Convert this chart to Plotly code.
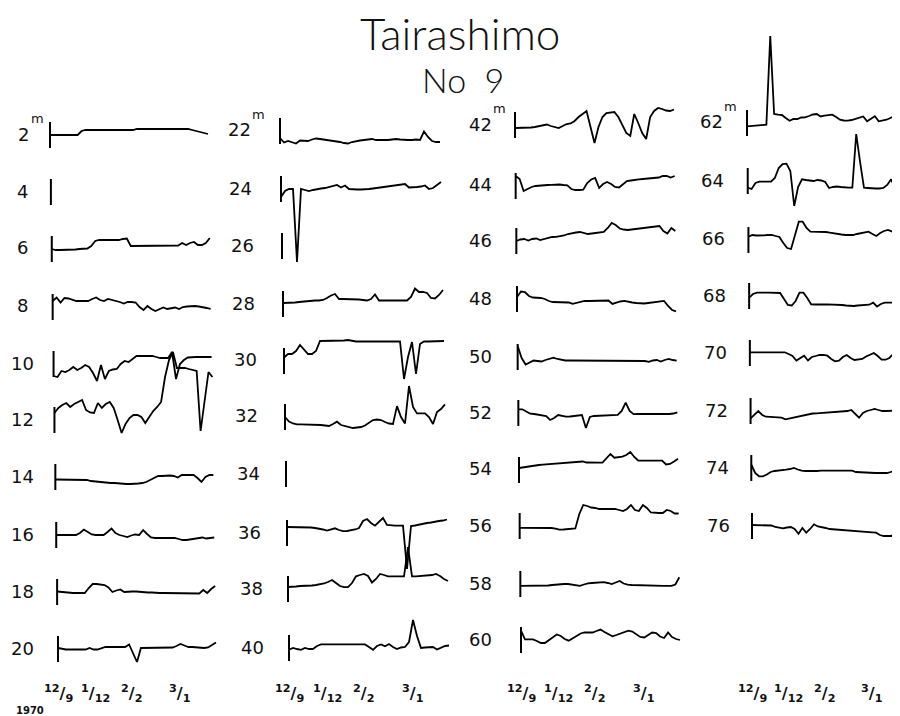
import plotly.graph_objects as go

W, H = 900, 716

# ---------------- data (deviation of each depth record, observation number on x) ----------
obs = list(range(41))
date_pos = [0, 9.5, 18.6, 31]
date_text = ["12/9", "1/12", "2/2", "3/1"]

d02 = [0,0,0,0,0,0,0,0,4,5, 5,5,5,5,5,5,5,5,5,5, 5,5,6,6,6,6,6,6,6,6, 6,6,6,6,6,6,5,4,3,2, 1]
d04 = None
d06 = [0,-1,-1,-1,-1,-1,-0.5,0,0,0.5, 3,8,9,9,9,9,9,9,10,10.5, 3,3,3,3,3,3,3,3,3,3, 3,3,3.5,6,4,6,7,4,4,6, 11]
d08 = [6,9.5,4.5,9,8.5,7,6,6,6,6, 8,9.5,7,6,8,7,6.5,5,3.5,5, 5,4.5,0,-3,1,-2,-4,-2,-0.5,-2, -1,-0.5,-2,0,0.5,1,1,0.5,0,-1, -2]
d10 = [-12,-13,-7,-8,-6,-3,-6,-4,-1,-3, -9,-17,-1,-15,-7,-5.5,-5,0,3,2, 5,8,8,8,8,8,7,6,6,6, 12,-15,0,4,6.5,7,7,7,7,7, 7]
d12 = [7,12,15,17,13,16,18,20,10,7.5, 7,17,12,16,18,12,0,-13,-4,2, 5,5,3,-3,3,9,13,18,43,60, 68,52,52,52,51,50,49,-11,20,48, 43]
d14 = [-2.5,-2.5,-2.5,-2.5,-2.5,-2.5,-2.5,-2.5,-3,-4, -4.5,-5,-5.5,-6,-6,-6,-6.5,-6.5,-7,-7, -7,-6.5,-6,-5,-3,-1,1,1,1.5,1.5, 1,-0.5,2,2,2,2,-1,-5,0,2, 2]
d16 = [0,0,0,0,0,0,2,5.5,3,0.5, 0,0,0,3,6.5,2,0,-1,-2,-0.5, 0.5,0,5,1,-2.5,-3,-3,-3,-3,-3, -3,-4,-5,-5,-4.5,-4,-3,-2.5,-3.5,-3, -2.5]
d18 = [0.5,0,-0.5,-1,-1,-1,-1,-1,4,8, 8,7.5,7,4.5,0,1.5,2.5,0,0.5,0.5, 0.5,0,0,-0.5,-0.5,-1,-1,-1,-1,-1, -1,-1,-1,-1,-1,-1,-1.5,2,-1,3, 6]
d20 = [1,0,-0.5,-0.5,-0.5,-0.5,-0.5,-0.5,1,-0.5, -0.5,1,2,2,2,2,2,2,4.5,-5, -13,1,1,1,1,1,1,1,1,1.5, 3,5,3.5,2,2,1.5,1,1,1.5,4, 6.5]

d22 = [-7,-11.5,-10,-11,-12.5,-9.5,-10,-10,-8.5,-7.5, -8,-8.5,-9,-9.5,-10,-11,-12,-12.5,-11,-10, -9.5,-9,-8.5,-8,-9,-9,-9.5,-9,-8.5,-8, -8.5,-9,-9,-9,-8.5,-9,-0.5,-6,-10,-11, -11]
d24 = [-8,-2,0,0,-73,0,-1,-2,-1,0, 0.5,1,2,3,4,1.5,3.5,0,-0.5,-0.5, -0.5,-0.5,0,0.5,1,1.5,2,2.5,3,3.5, 4,5,1.5,1.5,2,2.5,3.5,0,1,4, 7]
d26 = None
d28 = [1,1,1.5,1.5,2,2.5,3,3,3.5,3.5, 4,6,8.5,10,5,5,5,4.5,5,4.5, 4,3.5,5,9.5,3.5,3.5,3.5,3.5,3.5,3.5, 3.5,3.5,7,15.5,12,12,11,6,5.5,9, 14]
d30 = [3.5,7,7,10,16,12,7,7,10,20, 20,20,20,20,20.5,20.5,21,20,19.5,19.5, 19.5,19.5,19.5,19.5,19.5,19.5,19.5,19.5,19.5,19.5, -18,4,19,-13,17,19.5,19.5,19.5,20,20, 20]
d32 = [0,-4.5,-6.5,-7.3,-7.3,-7.3,-7.3,-7.3,-7.5,-8, -8.5,-9,-7,-4.7,-8,-9,-10.5,-11,-10.5,-10, -8.5,-6,-3,-2.5,-3,-5,-6.5,-7,10.9,0, -6.5,31,10,3.6,3.6,3.6,0,-7,5,8, 12.7]
d34 = None
d36 = [6,6,6,6,6,6,5.5,5,4.5,3.5, 2.5,3.5,4.7,3,1.8,2,2.5,3.5,5,12, 14,10,7.3,11,15,8,7.3,7.3,7.3,7.3, -36,7,7.5,8.5,9.5,10,10.5,11.5,12,12.5, 13.5]
d38 = [2,2,2.5,3,3,3.5,3.5,4,4.5,5.5, 7,9,6,3,1.8,1.8,6,12.7,14,15, 13,6.5,10,15,14,12.7,12.7,12.7,12.7,12.7, 42,12.7,12.7,13,13.2,13.4,14,15,13,10, 8]
d40 = [-1.8,0,-1,-1.8,0,-1,-1,2,3.6,3.6, 3.6,3.6,3.6,3.6,3.6,3.6,3.6,3.6,3.6,3.6, 1,-1.8,2,3.6,1.8,4,1,-1,0.5,1, 6,28,12,0,0.5,1,1,-1.5,0,2, 2.5]

d42 = [-3,-3,-3,-3,-2.5,-2,-1,0,0.5,-1, -2,-3,-1,1,1.5,4,8,11,14,-2, -18,-2,8,12,12.5,13,8,0,-8,-11, 11,2,-8,-14,8,14,17,16,14.5,14, 15.5]
d44 = [10,7,-5,-3,-1,0,0.5,0.7,1,1.2, 1.5,1.5,1,0.7,-3,-4,-4,-3.7,3,6.5, 8,-2,2,4,2,-1,-1.5,2,5,5.5, 6.3,6.6,7,7.3,7.6,8,8.5,10,10,8.5, 10]
d46 = [0,1.5,2,0.5,2,2.5,1,2,3.7,4, 4.2,4.5,5.5,7,8,8.5,9,8,7,7.5, 8,8.5,9,13,18,16,12.5,11.5,11,11.5, 12,12.3,12.5,12.8,13.5,14,15,10,7.5,13, 10]
d48 = [2,7.5,7,3,1.5,1.5,1,0,-2,-3, -3,-3,-3,-3.5,-4.9,-4,-2.5,-2,-2,-2, -2,-1.5,-1.5,-1.5,-4.9,-3.5,-2.5,-1.9,-3,-3.5, -4,-4.5,-4.5,-4,-3.5,-3,-2.5,-1.9,-7,-11, -12.3]
d50 = [11,-1,-7.5,-5.5,-3.5,-4,-4.5,-3,-2,-0.7, -2,-3,-3.5,-3.5,-3.5,-3.5,-3.5,-3.5,-3.5,-3.5, -3.5,-3.5,-3.5,-3.5,-3.5,-3.5,-3.5,-3.5,-3.5,-3.5, -3.5,-3.7,-4,-4.9,-3.5,-3,-4.5,-3,-2,-3, -3.7]
d52 = [3.7,3.7,1.5,-0.7,-1,-1.5,-2.5,-3,-7,-5, -2,-3,-3.7,-3.5,-3,-3,-2,-15,-4,-3, -2.8,-2.6,-2.4,-2.2,-2,-1.9,2,10.4,2,-1.1, -1,-1,-0.8,-0.8,-0.8,-1,-1.2,-1.5,-1,-0.5, 0.7]
d54 = [2,2.7,3.3,4,4.8,5,5.3,5.6,5.9,6.2, 6.4,6.7,7,7.2,7.4,7.5,8.5,7.5,7.3,7.4, 7.4,7.5,12,16,12.3,12.8,13.4,15,18,13, 9.5,9.3,9.3,9.3,9.3,9.3,9.3,5.5,6,8.5, 11.2]
d56 = [-1.9,-1.9,-1.9,-1.9,-1.9,-1.9,-1.9,-1.9,-2,-2.7, -3.7,-3.5,-3,-3,-2.5,12,21,20,18.5,18, 17,17,17,17,17,16,15,17,21,16, 15,21,18,13.5,13,13,13,16,15,12.5, 12.5]
d58 = [-1.9,-1.9,-1.9,-1.9,-1.9,-1.8,-1.7,-1.5,-1,-0.5, 0,0,0,-0.5,-1,-1.9,-0.5,0.7,1,1.2, 1.6,1.9,1,0,1.5,3,0.5,-0.7,-1,-1.2, -1.4,-1.5,-1.7,-1.8,-1.9,-1.9,-1.9,-1.9,-1.9,-0.5, 6.7]
d60 = [9.3,0.7,0.7,0.7,-1,-3,-3,0,3,5.5, 4,1,-0.7,1.5,4,6.5,7.5,7.3,7.5,9, 10.4,8,5.5,3.7,5,6.5,8,9.3,8.5,6, 3,2.5,5,7.5,7,3.5,2,7.5,3,1, 0]

d62 = [-3.3,-3,-2.7,-2.3,-2,-1.7,87,9,8.3,8, 5,2.3,4,4,5.5,5.7,7,8.5,9,6.5, 7.3,7.8,8.3,6,3.3,2.5,2.3,3,4,5, 6.5,1.7,4,6.7,1.7,2.5,3.3,5,7,6, 5]
d64 = [-6.7,-8,-2,-0.7,-0.7,-0.7,-0.7,3,13,17, 17.3,10,-25,-6,1.7,1,0.7,0,1,0.5, -1,-7,-6,-5.5,-6,-6.5,-6.7,-6.7,47,19, -6.7,-7,-7.5,-7.5,-7.5,-7,-4,1.7,-7,-3, 0]
d66 = [3.3,5,4.5,4.3,4.7,5,5,4,3,-3, -8,-9,4,18.3,18.3,12,8.3,8.3,8.3,8.5, 8,7.3,6.5,6,5.5,5,5,5,6,7, 7.5,8.3,6,4,7,9,10,8.5,7,6.7, 6.7]
d68 = [-1.7,2,3.3,3,3.3,3.3,3.3,3.3,3,-3, -9,-9.5,-5,3.3,3.3,-2,-8.3,-8.5,-8.7,-8.5, -8.3,-8.3,-8.3,-8.5,-9,-9.5,-10,-10,-9.5,-9.3, -9,-8.7,-6.7,-10.5,-8,-6.7,-6.7,-6.7,-8,-10, -8.3]
d70 = [0.7,0.7,0.7,0.7,0.7,0.7,0.7,0.7,0.7,0.7, -1,-3,-7.5,-5,-2.7,-7.5,-4,-3,-2,-1.8, -2.7,-6,-8.3,-7.7,-4,-2,-5,-7,-6.5,-6, -3.5,-1.5,0,-3,-6.7,-6.7,-5,-1,-3,-6.7, -3.3]
d72 = [-7.3,-4,0,-4,-5.7,-5.8,-6,-6.3,-6.7,-8.3, -7.5,-6,-5.3,-4.7,-4,-3.5,-2.5,-2.3,-2,-1.7, -1.5,-1.3,-1.3,-1,-0.5,0,1,-3,-6.7,-2, 0,1,2,1,0,0,0,0,0.5,1, 1]
d74 = [3.3,-5,-8.3,-8.3,-6.5,-4,-3,-2.7,-2,-1.7, -1,0,-1.5,-2.7,-3,-3.2,-3.3,-3,-2.7,-2.7, -2.7,-2.7,-2.7,-2.7,-2.7,-2.7,-2.7,-4,-4.3,-4.5, -4.8,-5,-5,-5,-5,-5,-4,-3,-5,-6, -6]
d76 = [1,1,1,1,1,0.5,-1,-2,-2.3,-1.5, -1,-3,-7.7,-2,-6.7,-3,1.7,-0.5,-1,-2, -3,-3.3,-3.3,-3.3,-3.5,-4,-4.3,-4.5,-5,-5.5, -6,-6.3,-6.7,-9,-10,-10,-10,-6,-1.7,-7, -10]

series = {2: d02, 4: d04, 6: d06, 8: d08, 10: d10, 12: d12, 14: d14, 16: d16, 18: d18, 20: d20,
          22: d22, 24: d24, 26: d26, 28: d28, 30: d30, 32: d32, 34: d34, 36: d36, 38: d38, 40: d40,
          42: d42, 44: d44, 46: d46, 48: d48, 50: d50, 52: d52, 54: d54, 56: d56, 58: d58, 60: d60,
          62: d62, 64: d64, 66: d66, 68: d68, 70: d70, 72: d72, 74: d74, 76: d76}

columns = [list(range(2, 21, 2)), list(range(22, 41, 2)), list(range(42, 61, 2)), list(range(62, 77, 2))]

# ---------------- layout geometry (pixels) ----------------
row_y = {2: 127, 4: 184, 6: 241, 8: 299, 10: 356, 12: 412, 14: 469, 16: 527, 18: 584, 20: 641,
         22: 123, 24: 181, 26: 238, 28: 296, 30: 353, 32: 409, 34: 466, 36: 525, 38: 581, 40: 640,
         42: 117, 44: 178, 46: 233, 48: 291, 50: 349, 52: 405, 54: 462, 56: 518, 58: 576, 60: 632,
         62: 115, 64: 173, 66: 232, 68: 288, 70: 345, 72: 403, 74: 460, 76: 518}
col_tick_x = [(42, 50, 158), (272, 281, 160), (507, 513, 159), (739, 744, 155)]
label_cx = [(15, 14), (231, 245), (472, 472), (703, 710)]
NPTS = len(obs) - 1

INK = "#111111"
fig = go.Figure()
layout_axes = {}
shapes = []
annotations = []

k = 0
bottom_axes = []
for c, depths in enumerate(columns):
    n = len(depths)
    tx0, tx1, width = col_tick_x[c]
    lx0, lx1 = label_cx[c]
    for i, d in enumerate(depths):
        k += 1
        t = i / (n - 1)
        x0 = tx0 + (tx1 - tx0) * t
        ppi = width / NPTS
        lo, hi = max(x0 - 2 * ppi, 0), min(x0 + width + 2 * ppi, W)
        xr = [(lo - x0) / ppi, (hi - x0) / ppi]
        xd = [lo / W, hi / W]
        yc = H - row_y[d]
        ylo, yhi = max(yc - 110, 0), min(yc + 110, H)
        yr = [ylo - yc, yhi - yc]
        yd = [ylo / H, yhi / H]
        xa = "x" if k == 1 else f"x{k}"
        ya = "y" if k == 1 else f"y{k}"
        vals = series[d]
        fig.add_trace(go.Scatter(
            x=obs if vals else [], y=vals if vals else [],
            xaxis=xa, yaxis=ya, mode="lines",
            line=dict(color="black", width=1.8),
            hoverinfo="skip", showlegend=False))
        layout_axes["xaxis" if k == 1 else f"xaxis{k}"] = dict(
            domain=xd, range=xr, visible=False, fixedrange=True, anchor=ya)
        layout_axes["yaxis" if k == 1 else f"yaxis{k}"] = dict(
            domain=yd, range=yr, visible=False, fixedrange=True, anchor=xa)
        shapes.append(dict(type="line", xref=xa, yref=ya, x0=0, x1=0, y0=-13, y1=13,
                           line=dict(color="black", width=2)))
        cx = lx0 + (lx1 - lx0) * t
        annotations.append(dict(text=str(d), x=cx / W, y=1 - (row_y[d] - 1) / H,
                                xref="paper", yref="paper", xanchor="center", yanchor="middle",
                                showarrow=False,
                                font=dict(family="DejaVu Sans", size=18, color=INK)))
        if i == 0:
            half = len(str(d)) * 5.7
            annotations.append(dict(text="m", x=(cx + half) / W, y=1 - (row_y[d] - 7) / H,
                                    xref="paper", yref="paper", xanchor="left", yanchor="bottom",
                                    showarrow=False,
                                    font=dict(family="DejaVu Sans", size=13, color=INK)))
        if i == n - 1:
            bottom_axes.append(xa)

for xa in bottom_axes:
    for p, txt in zip(date_pos, date_text):
        num, den = txt.split("/")
        annotations.append(dict(text=f"<b><sup>{num}</sup>/<sub>{den}</sub></b>", x=p, y=1 - 685 / H,
                                xref=xa, yref="paper", xanchor="center", yanchor="middle",
                                showarrow=False,
                                font=dict(family="DejaVu Sans", size=16, color=INK)))

annotations.append(dict(text="<b>1970</b>", x=22 / W, y=1 - 702 / H, xref="paper", yref="paper",
                        xanchor="center", yanchor="middle", showarrow=False,
                        font=dict(family="DejaVu Sans", size=10, color=INK)))
annotations.append(dict(text="Tairashimo", x=452 / W, y=1 - 25 / H, xref="paper", yref="paper",
                        xanchor="center", yanchor="middle", showarrow=False,
                        font=dict(family="Lato", size=44, color=INK, weight=300)))
annotations.append(dict(text="No  9", x=455 / W, y=1 - 71 / H, xref="paper", yref="paper",
                        xanchor="center", yanchor="middle", showarrow=False,
                        font=dict(family="Lato", size=34, color=INK, weight=300)))

fig.update_layout(
    width=W, height=H, autosize=False,
    margin=dict(l=0, r=0, t=0, b=0),
    paper_bgcolor="white", plot_bgcolor="rgba(0,0,0,0)",
    shapes=shapes, annotations=annotations, showlegend=False,
    **layout_axes)

fig.write_html("out.html")
